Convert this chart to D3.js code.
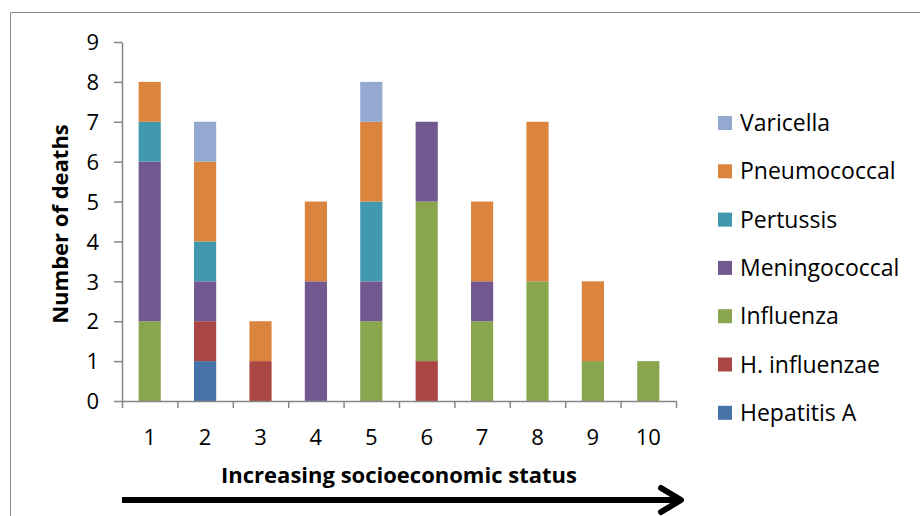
<!DOCTYPE html>
<html>
<head>
<meta charset="utf-8">
<script src="https://cdn.jsdelivr.net/npm/d3@7"></script>
<style>
  html, body { margin: 0; padding: 0; background: #fff; }
  svg { display: block; }
  text { font-family: "Open Sans", sans-serif; fill: #000; }
</style>
</head>
<body>
<svg id="chart" width="920" height="516"></svg>
<script>
// Socioeconomic status groups (1 = lowest)
const categories = ["1", "2", "3", "4", "5", "6", "7", "8", "9", "10"];

// Deaths per group, by cause
const hepatitisA    = [0, 1, 0, 0, 0, 0, 0, 0, 0, 0];
const hInfluenzae   = [0, 1, 1, 0, 0, 1, 0, 0, 0, 0];
const influenza     = [2, 0, 0, 0, 2, 4, 2, 3, 1, 1];
const meningococcal = [4, 1, 0, 3, 1, 2, 1, 0, 0, 0];
const pertussis     = [1, 1, 0, 0, 2, 0, 0, 0, 0, 0];
const pneumococcal  = [1, 2, 1, 2, 2, 0, 2, 4, 2, 0];
const varicella     = [0, 1, 0, 0, 1, 0, 0, 0, 0, 0];

// Stacking order, bottom to top
const seriesNames = ["Hepatitis A", "H. influenzae", "Influenza", "Meningococcal", "Pertussis", "Pneumococcal", "Varicella"];
const seriesValues = [hepatitisA, hInfluenzae, influenza, meningococcal, pertussis, pneumococcal, varicella];
const seriesColors = ["#4572A7", "#AA4643", "#89A54E", "#71588F", "#4198AF", "#DB843D", "#93A9CF"];

const yTicks = [0, 1, 2, 3, 4, 5, 6, 7, 8, 9];

const svg = d3.select("#chart");

// Outer chart frame (left and top edges)
svg.append("path")
  .attr("d", "M10.5,516 V12.5 H920")
  .attr("fill", "none")
  .attr("stroke", "#8a8a8a")
  .attr("stroke-width", 1);

const plotLeft = 122, plotRight = 676, plotTop = 42, plotBottom = 401;

const x = d3.scaleBand()
  .domain(categories)
  .range([plotLeft, plotRight])
  .paddingInner(0.6)
  .paddingOuter(0.3);

// Category boundaries for the x tick marks
const xEdge = d3.scaleLinear().domain([0, categories.length]).range([plotLeft, plotRight]);

const y = d3.scaleLinear().domain([0, 9]).range([plotBottom, plotTop]);

// Build stacked layers
const rows = categories.map((c, i) => {
  const r = { category: c };
  seriesNames.forEach((n, k) => { r[n] = seriesValues[k][i]; });
  return r;
});
const stacked = d3.stack().keys(seriesNames)(rows);

const layers = svg.append("g").selectAll("g")
  .data(stacked)
  .join("g")
  .attr("fill", (d, i) => seriesColors[i]);

layers.selectAll("rect")
  .data(d => d.filter(s => s[1] - s[0] > 0))
  .join("rect")
  .attr("x", d => x(d.data.category))
  .attr("width", x.bandwidth())
  .attr("y", d => y(d[1]))
  .attr("height", d => y(d[0]) - y(d[1]));

// Y axis
const yAxis = svg.append("g")
  .attr("transform", `translate(${plotLeft},0)`)
  .call(d3.axisLeft(y).tickValues(yTicks).tickSize(8).tickPadding(15).tickSizeOuter(0));
yAxis.select(".domain").attr("stroke", "#868686").attr("stroke-width", 1.5);
yAxis.selectAll(".tick line").attr("stroke", "#868686").attr("stroke-width", 1.5);
yAxis.selectAll(".tick text")
  .style("font-family", "'Open Sans', sans-serif")
  .style("font-size", "22px")
  .attr("fill", "#000")
  .attr("dy", "0.35em");

// X axis: tick marks at category boundaries
const xAxis = svg.append("g")
  .attr("transform", `translate(0,${plotBottom})`)
  .call(d3.axisBottom(xEdge).ticks(categories.length).tickSize(7).tickFormat("").tickSizeOuter(0));
xAxis.select(".domain").attr("stroke", "#868686").attr("stroke-width", 1.5);
xAxis.selectAll(".tick line").attr("stroke", "#868686").attr("stroke-width", 1.5);

// X category labels
svg.append("g").selectAll("text")
  .data(categories)
  .join("text")
  .attr("x", d => x(d) + x.bandwidth() / 2)
  .attr("y", 445)
  .attr("text-anchor", "middle")
  .style("font-size", "22px")
  .text(d => d);

// Axis titles
svg.append("text")
  .attr("transform", "translate(68,224) rotate(-90)")
  .attr("text-anchor", "middle")
  .style("font-size", "22px")
  .style("font-weight", "bold")
  .text("Number of deaths");

svg.append("text")
  .attr("x", 399)
  .attr("y", 483)
  .attr("text-anchor", "middle")
  .style("font-size", "22px")
  .style("font-weight", "bold")
  .text("Increasing socioeconomic status");

// Direction arrow under the x axis
svg.append("line")
  .attr("x1", plotLeft).attr("y1", 500)
  .attr("x2", 680).attr("y2", 500)
  .attr("stroke", "#000").attr("stroke-width", 6);
svg.append("path")
  .attr("d", "M661,488 L681,500 L661,512")
  .attr("fill", "none")
  .attr("stroke", "#000")
  .attr("stroke-width", 6)
  .attr("stroke-linecap", "round")
  .attr("stroke-linejoin", "round");

// Legend (top entry = top of stack)
const legendItems = seriesNames.map((n, i) => ({ name: n, color: seriesColors[i] })).reverse();
const legend = svg.append("g").selectAll("g")
  .data(legendItems)
  .join("g")
  .attr("transform", (d, i) => `translate(718,${123 + i * 48.3})`);
legend.append("rect")
  .attr("x", 0).attr("y", -7)
  .attr("width", 14).attr("height", 14)
  .attr("fill", d => d.color);
legend.append("text")
  .attr("x", 22)
  .attr("y", 0)
  .attr("dy", "0.35em")
  .style("font-size", "23px")
  .text(d => d.name);
</script>
</body>
</html>
